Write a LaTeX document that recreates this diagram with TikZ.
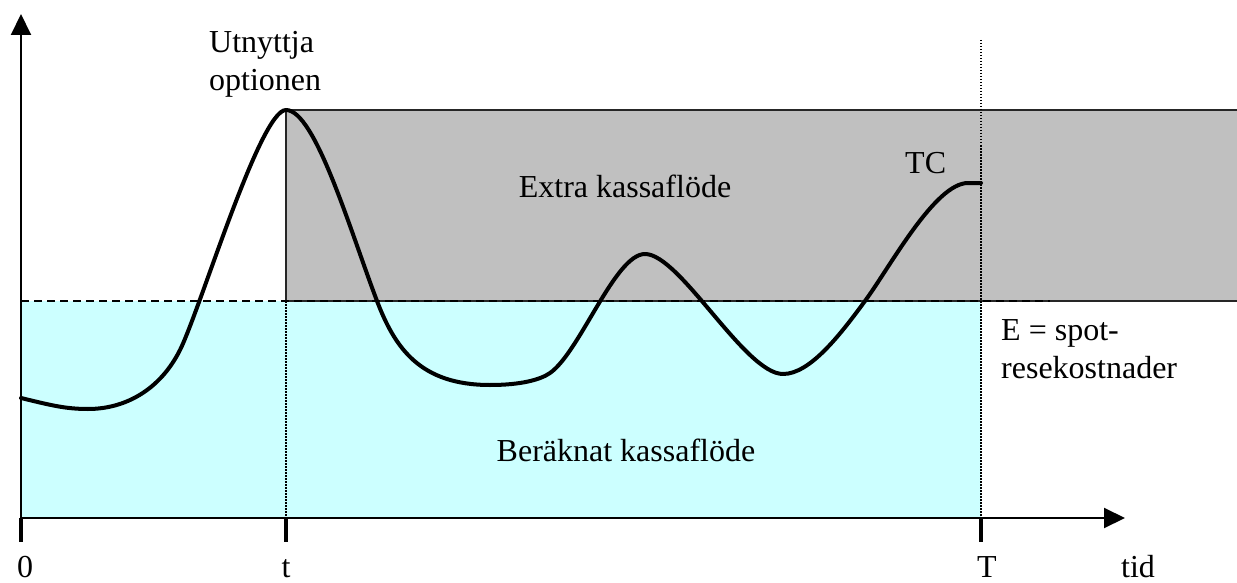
\documentclass[tikz,border=0pt]{standalone}
\usepackage{fontspec}
\setmainfont{Liberation Serif}
\usetikzlibrary{arrows.meta}
\definecolor{calccyan}{HTML}{CCFFFF}
\definecolor{extragray}{HTML}{C0C0C0}
\begin{document}
\begin{tikzpicture}[x=1pt,y=-1pt,
  lbl/.style={font=\fontsize{32}{38}\selectfont, inner sep=0pt},
  axisline/.style={line width=2pt, -{Triangle[length=21pt,width=20pt]}},
  tickmark/.style={line width=4pt},
  curveline/.style={line width=4pt, line join=round, line cap=round},
  dotline/.style={line width=1.2pt, dash pattern=on 1.5pt off 1.5pt},
  dashline/.style={line width=2pt, dash pattern=on 8pt off 5pt},
  rectborder/.style={line width=1.5pt, draw=black!85}]
\useasboundingbox (0,0) rectangle (1237,583);
% coordinates
\coordinate (O) at (21,518);
\coordinate (Ytop) at (21,14);
\coordinate (Xend) at (1125,518);
\coordinate (tb) at (286,518);
\coordinate (tm) at (286,301);
\coordinate (tt) at (286,110);
\coordinate (Tb) at (981,518);
\coordinate (Tt) at (981,40);
\coordinate (El) at (21,301);
\coordinate (Er) at (1050,301);
\coordinate (Gtr) at (1238,110);
\coordinate (Gbr) at (1238,301);
% areas
\fill[calccyan] (El) rectangle (Tb);
\fill[extragray] (tt) rectangle (Gbr);
\draw[rectborder] (Gtr) -- (tt) -- (tm) -- (Gbr);
% guide lines
\draw[dotline] (tm) -- (tb);
\draw[dotline] (Tt) -- (Tb);
\draw[dashline] (El) -- (Er);
% TC curve
\draw[curveline] (21,398)
  .. controls (50,405) and (65,409) .. (88,409)
  .. controls (125,409) and (160,390) .. (180,350)
  .. controls (200,310) and (260,110) .. (286,110)
  .. controls (315,110) and (350,230) .. (377,301)
  .. controls (395,348) and (420,385) .. (490,385)
  .. controls (520,385) and (540,380) .. (550,373)
  .. controls (580,352) and (615,254) .. (645,254)
  .. controls (680,254) and (745,374) .. (783,374)
  .. controls (810,374) and (840,335) .. (865,301)
  .. controls (890,267) and (935,183) .. (968,183)
  -- (981,183);
% axes
\draw[axisline] (O) -- (Ytop);
\draw[axisline] (O) -- (Xend);
\draw[tickmark] (O) -- ++(0,24);
\draw[tickmark] (tb) -- ++(0,24);
\draw[tickmark] (Tb) -- ++(0,24);
% labels
\node[lbl, anchor=base] (l0) at (25,577) {0};
\node[lbl, anchor=base] (lt) at (286,577) {t};
\node[lbl, anchor=base] (lT) at (987,577) {T};
\node[lbl, anchor=base] (ltid) at (1138,577) {tid};
\node[lbl, anchor=north west, align=left] (lopt) at (209,31) {Utnyttja\\optionen};
\node[lbl, anchor=base west] (lTC) at (905,173) {TC};
\node[lbl, anchor=base] (lextra) at (625,197) {Extra kassaflöde};
\node[lbl, anchor=base] (lber) at (626,461) {Beräknat kassaflöde};
\node[lbl, anchor=north west, align=left] (lE) at (1001,319) {E = spot-\\resekostnader};
\end{tikzpicture}
\end{document}
